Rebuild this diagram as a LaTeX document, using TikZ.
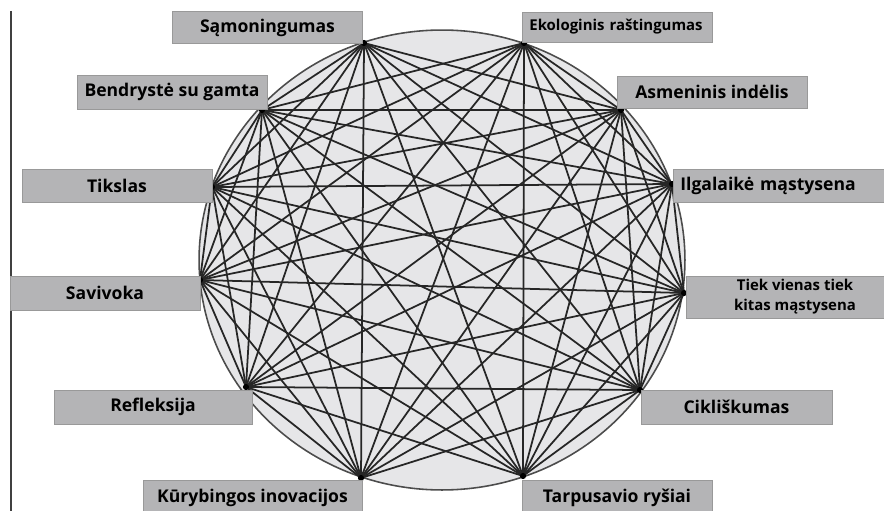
\documentclass[tikz,border=0pt]{standalone}
\usepackage{fontspec}
\setmainfont{Open Sans}
\usetikzlibrary{positioning}

\definecolor{boxgray}{RGB}{180,180,182}
\definecolor{discgray}{RGB}{230,230,232}

\begin{document}
\begin{tikzpicture}[
    x=0.02cm, y=-0.02cm,
    label/.style={draw=black!40, line width=0.4pt, fill=boxgray, minimum width=3.8cm, minimum height=0.64cm, inner sep=0pt, font=\bfseries\fontsize{10}{12}\selectfont},
    link/.style={black!85, line width=1pt},
    dot/.style={circle, fill=black, inner sep=0pt, minimum size=3.5pt}
]
\useasboundingbox (0,0) rectangle (884,510);

    % Frame line
    \draw[black!75, line width=0.8pt] (11,11) -- (11,512);

    % Disc
    \draw[fill=discgray, draw=black!70, line width=0.9pt] (442,260) ellipse [x radius=4.86cm, y radius=4.6cm];

    % Points on the disc
    \foreach \n/\x/\y in {1/364/43, 2/524/43, 3/621/110, 4/672/184, 5/684/293, 6/640/390,
                          7/523/476, 8/361/478, 9/246/387, 10/200/280, 11/212/187, 12/262/110} {
        \coordinate (p\n) at (\x,\y);
    }

    % Links, every point to every other (no chord on top and bottom)
    \foreach \i in {1,...,11} {
        \pgfmathtruncatemacro{\first}{\i+1}
        \foreach \j in {\first,...,12} {
            \pgfmathtruncatemacro{\skipit}{(\i==1 && \j==2) || (\i==7 && \j==8)}
            \ifnum\skipit=0 \draw[link] (p\i) -- (p\j); \fi
        }
    }
    \foreach \n in {1,...,12}
        \node[dot] (d\n) at (p\n) {};

    % Labels
    \node[label] (samBox) at (267.5,27.5) {Sąmoningumas};
    \node[label, anchor=west, text width=3.8cm-8pt, align=left, inner xsep=4pt, minimum height=0.6cm,
          font=\bfseries\fontsize{8.5}{10}\selectfont] (ekoBox) at (522,27) {Ekologinis raštingumas};
    \node[label, minimum height=0.68cm] (benBox) at (172,92) {Bendrystė su gamta};
    \node[label] (asmBox) at (712,92) {Asmeninis indėlis};
    \node[label, minimum height=0.66cm] (tikBox) at (117,185.5) {Tikslas};
    \node[label, anchor=west, text width=4.4cm, align=left, inner xsep=4pt, minimum height=0.66cm] (ilgBox) at (673,185.5) {Ilgalaikė mąstysena};
    \node[label, minimum height=0.68cm] (savBox) at (105,293) {Savivoka};
    \node[label, minimum width=4.36cm, minimum height=0.84cm, align=center,
          font=\bfseries\fontsize{8.5}{11.3}\selectfont] (tieBox) at (795,297) {Tiek vienas tiek\\kitas mąstysena};
    \node[label, minimum width=3.96cm, minimum height=0.68cm] (refBox) at (153,407) {Refleksija};
    \node[label, minimum width=3.82cm, minimum height=0.68cm] (cikBox) at (736.5,407) {Cikliškumas};
    \node[label, minimum width=4.38cm, minimum height=0.72cm] (kurBox) at (252.5,498) {Kūrybingos inovacijos};
    \node[label, minimum height=0.72cm] (tarBox) at (617,498) {Tarpusavio ryšiai};

\end{tikzpicture}
\end{document}
